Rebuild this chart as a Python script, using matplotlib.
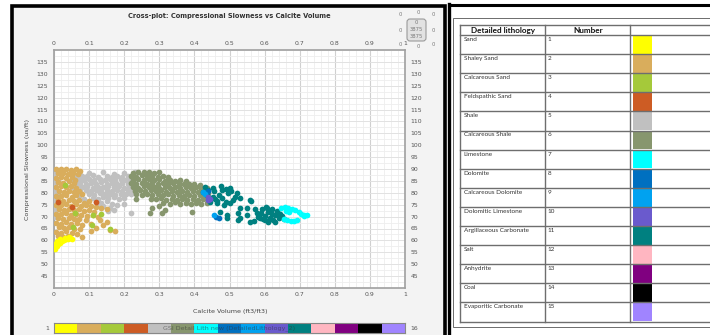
import matplotlib.pyplot as plt
from matplotlib.patches import Rectangle, FancyBboxPatch

plt.rcParams['font.family'] = ['DejaVu Sans']

# lithology legend table
lith_names = ['Sand', 'Shaley Sand', 'Calcareous Sand', 'Feldspathic Sand', 'Shale',
              'Calcareous Shale', 'Limestone', 'Dolomite', 'Calcareous Dolomite',
              'Dolomitic Limestone', 'Argillaceous Carbonate', 'Salt', 'Anhydrite',
              'Coal', 'Evaporitic Carbonate']
lith_numbers = [1, 2, 3, 4, 5, 6, 7, 8, 9, 10, 11, 12, 13, 14, 15]
lith_colors = ['#FFFF00', '#D9AD5C', '#A5C93A', '#CD5C24', '#C0C0C0',
               '#87966E', '#00FFFF', '#0070C0', '#00A2F0', '#6A5ACD',
               '#008080', '#FFB6C1', '#800080', '#000000', '#A084FF']

x_ticks = [0, 0.1, 0.2, 0.3, 0.4, 0.5, 0.6, 0.7, 0.8, 0.9, 1]
x_ticklabels = ['0', '0.1', '0.2', '0.3', '0.4', '0.5', '0.6', '0.7', '0.8', '0.9', '1']
y_ticks = [45, 50, 55, 60, 65, 70, 75, 80, 85, 90, 95, 100, 105, 110, 115, 120, 125, 130, 135]

# (calcite volume, compressional slowness)
sand = [(0.004, 56.5), (0.008, 57.5), (0.012, 58.3), (0.016, 59.0), (0.022, 59.6),
        (0.028, 60.0), (0.034, 60.4), (0.040, 60.6), (0.046, 60.8), (0.052, 60.6),
        (0.030, 61.2), (0.018, 60.6), (0.008, 59.8), (0.004, 58.5), (0.042, 61.5)]

shaley_sand = [
    (0.006, 90.0), (0.02, 89.8), (0.034, 90.1), (0.048, 89.6), (0.062, 89.9), (0.075, 89.3),
    (0.01, 88.2), (0.025, 88.4), (0.04, 87.9), (0.055, 88.3), (0.068, 87.7),
    (0.006, 86.3), (0.02, 86.6), (0.035, 86.1), (0.05, 86.5), (0.06, 85.5),
    (0.012, 84.6), (0.027, 84.2), (0.042, 84.8), (0.056, 84.0),
    (0.006, 82.5), (0.02, 82.8), (0.034, 82.3), (0.048, 82.7), (0.063, 82.1),
    (0.013, 80.7), (0.028, 80.4), (0.043, 80.9), (0.057, 80.2), (0.07, 80.6),
    (0.006, 78.8), (0.02, 78.5), (0.035, 79.0), (0.05, 78.4), (0.064, 78.9), (0.08, 79.3),
    (0.012, 76.9), (0.027, 76.6), (0.042, 77.1), (0.056, 76.5), (0.07, 76.8), (0.085, 75.9), (0.1, 76.7),
    (0.006, 75.0), (0.02, 74.7), (0.034, 75.2), (0.048, 74.6), (0.062, 75.1), (0.076, 74.5),
    (0.09, 74.9), (0.105, 74.3), (0.12, 74.0), (0.135, 73.6), (0.15, 73.4),
    (0.013, 73.1), (0.028, 72.8), (0.043, 73.3), (0.057, 72.6), (0.07, 73.0), (0.085, 72.4),
    (0.1, 72.8), (0.115, 72.1),
    (0.006, 71.2), (0.02, 70.9), (0.034, 71.4), (0.048, 70.8), (0.062, 71.1), (0.078, 70.5),
    (0.095, 70.2), (0.11, 70.6), (0.125, 69.8),
    (0.012, 69.3), (0.027, 69.0), (0.042, 69.5), (0.056, 68.8), (0.07, 69.2), (0.09, 68.4),
    (0.13, 68.6), (0.15, 67.7),
    (0.006, 67.4), (0.02, 67.1), (0.034, 67.6), (0.048, 66.9), (0.065, 67.3), (0.08, 66.5),
    (0.105, 66.8), (0.14, 66.3), (0.12, 65.4),
    (0.013, 65.5), (0.028, 65.2), (0.043, 65.7), (0.058, 65.0), (0.075, 64.6), (0.16, 64.5),
    (0.174, 64.0), (0.105, 64.0),
    (0.006, 63.6), (0.02, 63.3), (0.035, 63.8), (0.05, 63.1), (0.065, 62.7), (0.08, 61.6),
    (0.012, 61.8), (0.026, 61.5), (0.04, 62.0)]

calcareous_sand = [(0.031, 83.3), (0.111, 70.7), (0.107, 66.5), (0.054, 65.6),
                   (0.16, 64.6), (0.135, 71.0), (0.06, 71.5)]

feldspathic_sand = [(0.012, 76.3), (0.05, 74.2), (0.12, 76.0)]

shale = [
    (0.07, 88.2), (0.10, 88.5), (0.14, 88.6), (0.17, 88.0), (0.20, 88.3), (0.23, 88.8),
    (0.06, 86.8), (0.08, 87.2), (0.095, 86.9), (0.11, 87.3), (0.125, 86.7), (0.15, 87.1),
    (0.165, 86.6), (0.18, 87.0), (0.195, 86.8), (0.21, 87.2),
    (0.055, 85.4), (0.07, 85.8), (0.085, 85.3), (0.10, 85.7), (0.115, 85.2), (0.13, 85.6),
    (0.145, 85.4), (0.16, 85.8), (0.175, 85.3), (0.19, 85.6), (0.205, 85.2), (0.22, 85.7),
    (0.06, 84.0), (0.075, 84.3), (0.09, 83.8), (0.105, 84.2), (0.12, 83.9), (0.135, 84.4),
    (0.15, 83.8), (0.165, 84.1), (0.18, 83.7), (0.195, 84.2), (0.21, 83.9), (0.225, 84.3),
    (0.05, 82.4), (0.065, 82.8), (0.08, 82.3), (0.095, 82.7), (0.11, 82.2), (0.125, 82.6),
    (0.14, 82.4), (0.155, 82.8), (0.17, 82.3), (0.185, 82.7), (0.20, 82.2), (0.215, 82.6), (0.23, 82.3),
    (0.06, 81.0), (0.075, 80.7), (0.09, 81.2), (0.105, 80.8), (0.12, 81.1), (0.135, 80.6),
    (0.15, 81.2), (0.165, 80.9), (0.18, 81.3), (0.195, 80.7), (0.21, 81.1), (0.225, 80.8),
    (0.10, 79.6), (0.115, 79.2), (0.13, 79.8), (0.145, 79.3), (0.16, 79.7), (0.175, 79.2),
    (0.19, 79.6), (0.205, 79.3), (0.22, 79.7),
    (0.11, 78.0), (0.125, 77.6), (0.14, 78.2), (0.155, 77.8), (0.17, 78.1), (0.185, 77.5), (0.2, 78.0),
    (0.12, 76.2), (0.135, 75.8), (0.15, 76.4), (0.165, 75.5), (0.18, 74.8), (0.14, 74.4),
    (0.16, 73.8), (0.125, 74.9), (0.17, 72.8), (0.155, 72.3), (0.2, 75.2), (0.219, 71.4),
    (0.004, 88.0), (0.004, 86.0), (0.004, 84.0), (0.004, 82.0), (0.004, 80.0), (0.004, 78.0),
    (0.004, 76.0), (0.004, 74.0), (0.004, 72.0), (0.004, 70.0), (0.012, 85.0), (0.012, 79.0),
    (0.012, 73.0), (0.07, 78.5), (0.085, 77.5), (0.09, 76.0)]

calcareous_shale = [
    (0.225, 88.4), (0.24, 88.9), (0.255, 88.6), (0.27, 88.9), (0.285, 88.3), (0.30, 88.7),
    (0.22, 87.1), (0.235, 86.8), (0.25, 87.3), (0.265, 86.9), (0.28, 87.2), (0.295, 86.7),
    (0.31, 87.0), (0.325, 86.6),
    (0.225, 85.4), (0.24, 85.8), (0.255, 85.3), (0.27, 85.7), (0.285, 85.2), (0.30, 85.6),
    (0.315, 85.1), (0.33, 85.5), (0.345, 85.0), (0.36, 85.4), (0.375, 84.9),
    (0.22, 84.0), (0.235, 83.7), (0.25, 84.2), (0.265, 83.8), (0.28, 84.1), (0.295, 83.6),
    (0.31, 84.0), (0.325, 83.7), (0.34, 84.1), (0.355, 83.6), (0.37, 83.9), (0.385, 83.5),
    (0.40, 83.8), (0.415, 83.3),
    (0.225, 82.5), (0.24, 82.2), (0.255, 82.7), (0.27, 82.3), (0.285, 82.6), (0.30, 82.1),
    (0.315, 82.5), (0.33, 82.0), (0.345, 82.4), (0.36, 82.1), (0.375, 82.5), (0.39, 82.0),
    (0.405, 82.3), (0.42, 81.9), (0.435, 82.2),
    (0.23, 80.8), (0.245, 81.2), (0.26, 80.7), (0.275, 81.1), (0.29, 80.6), (0.305, 81.0),
    (0.32, 80.5), (0.335, 80.9), (0.35, 80.4), (0.365, 80.8), (0.38, 80.3), (0.395, 80.7),
    (0.41, 80.2), (0.425, 80.6), (0.44, 80.1),
    (0.235, 79.4), (0.25, 79.0), (0.265, 79.5), (0.28, 79.1), (0.295, 79.4), (0.31, 78.9),
    (0.325, 79.3), (0.34, 78.8), (0.355, 79.2), (0.37, 78.7), (0.385, 79.1), (0.40, 78.6),
    (0.415, 79.0), (0.43, 78.5),
    (0.275, 77.6), (0.29, 77.2), (0.305, 77.7), (0.32, 77.1), (0.335, 77.5), (0.35, 77.0),
    (0.365, 77.4), (0.38, 76.9), (0.395, 77.3), (0.41, 76.8), (0.425, 77.2), (0.44, 76.7),
    (0.31, 75.9), (0.33, 75.5), (0.345, 76.0), (0.36, 75.4), (0.375, 75.8), (0.39, 75.3),
    (0.405, 75.7), (0.42, 75.2), (0.435, 75.6),
    (0.278, 73.5), (0.307, 71.6), (0.316, 72.8), (0.274, 71.5), (0.392, 72.1), (0.30, 74.5),
    (0.235, 77.5)]

argillaceous_carbonate = [
    (0.425, 80.5), (0.454, 82.0), (0.454, 78.4), (0.478, 81.2), (0.497, 79.9), (0.516, 78.4),
    (0.53, 77.8), (0.558, 77.0), (0.562, 76.5), (0.444, 76.3), (0.463, 75.6), (0.483, 74.9),
    (0.501, 75.6), (0.53, 73.5), (0.549, 73.5), (0.572, 73.2), (0.592, 73.2), (0.606, 73.5),
    (0.473, 72.1), (0.492, 69.3), (0.525, 71.4), (0.525, 68.6), (0.549, 70.7), (0.558, 67.9),
    (0.587, 69.3), (0.577, 71.4),
    (0.59, 71.5), (0.60, 70.2), (0.61, 72.0), (0.615, 69.3), (0.62, 71.0), (0.625, 68.6),
    (0.63, 70.5), (0.635, 72.2), (0.64, 69.5), (0.645, 71.2), (0.60, 68.4), (0.61, 67.8),
    (0.62, 73.0), (0.63, 67.9), (0.65, 70.2), (0.655, 68.8), (0.595, 69.0), (0.58, 70.0),
    (0.57, 68.2), (0.605, 74.0),
    (0.43, 82.3), (0.44, 81.0), (0.435, 78.9), (0.445, 77.8), (0.455, 80.8), (0.46, 77.5),
    (0.47, 79.2), (0.465, 76.5), (0.48, 77.8), (0.49, 76.2), (0.475, 82.8), (0.49, 81.5),
    (0.505, 80.8), (0.51, 77.0), (0.52, 80.0), (0.50, 82.2), (0.492, 70.7), (0.53, 69.3)]

limestone = [(0.648, 73.8), (0.658, 74.0), (0.668, 73.8), (0.678, 73.3), (0.688, 72.6),
             (0.697, 71.9), (0.705, 71.2), (0.713, 70.8), (0.72, 70.6), (0.712, 70.2),
             (0.66, 72.2), (0.67, 71.8), (0.655, 69.0), (0.665, 68.6), (0.675, 68.3),
             (0.685, 68.2), (0.693, 68.4)]

dolomite = [(0.462, 70.0), (0.47, 69.6), (0.44, 80.6)]
calcareous_dolomite = [(0.425, 80.3), (0.43, 79.5), (0.456, 70.6)]
dolomitic_limestone = [(0.44, 76.8), (0.445, 77.5), (0.438, 78.2)]

W, H = 710, 335
fig = plt.figure(figsize=(W / 100, H / 100), dpi=100)

# pixel-space overlay for panel frames, titles and the legend table
bg = fig.add_axes([0, 0, 1, 1], zorder=0)
bg.set_xlim(0, W)
bg.set_ylim(H, 0)
bg.axis('off')

# left panel frame
bg.add_patch(Rectangle((12, 5.5), 432.5, 345, facecolor='#f3f3f3', edgecolor='black', lw=2.6))
# right panel frame
bg.plot([448.5, 448.5], [4, H], color='black', lw=2.4)
bg.plot([448.5, W + 5], [5, 5], color='black', lw=2.2)
bg.add_patch(Rectangle((453, 18), 300, 309, facecolor='white', edgecolor='#555555', lw=0.6))

bg.text(229, 16, 'Cross-plot: Compressional Slowness vs Calcite Volume', ha='center', va='center',
        fontsize=4.8, fontweight='bold', color='#333333')
bg.text(230, 312, 'Calcite Volume (ft3/ft3)', ha='center', va='center', fontsize=4.6, color='#444444')
bg.text(28, 169, 'Compressional Slowness (us/ft)', ha='center', va='center', rotation=90,
        fontsize=4.6, color='#444444')

# small counter widget in the top right corner
bg.add_patch(FancyBboxPatch((407, 19), 19, 22, boxstyle='round,pad=0,rounding_size=3',
                            facecolor='#e2e2e2', edgecolor='#9a9a9a', lw=0.8))
for tx, ty, s in [(418, 13, '0'), (400, 15, '0'), (433, 15, '0'), (400, 30, '0'), (433, 30, '0'),
                  (400, 44, '0'), (433, 44, '0'), (418, 47, '0'), (416.5, 23, '0'),
                  (416.5, 29.5, '3875'), (416.5, 36, '3875')]:
    bg.text(tx, ty, s, ha='center', va='center', fontsize=3.8, color='#7a7a7a')

# legend table
tbl_top, hdr_bot, row_h = 25, 35, 19.1
col_x = [460, 545, 630]
tbl_bot = hdr_bot + row_h * len(lith_names)
line_c = '#6e6e6e'
bg.plot([col_x[0], W + 5], [tbl_top, tbl_top], color=line_c, lw=1.0)
bg.plot([col_x[0], W + 5], [hdr_bot, hdr_bot], color=line_c, lw=1.0)
for i in range(len(lith_names)):
    yb = hdr_bot + row_h * (i + 1)
    bg.plot([col_x[0], W + 5], [yb, yb], color=line_c, lw=1.0)
for cx in col_x:
    bg.plot([cx, cx], [tbl_top, tbl_bot], color=line_c, lw=1.0)
bg.text(503, 30.3, 'Detailed lithology', ha='center', va='center', fontsize=5.9,
        fontweight='bold', family='Lato', color='#111111')
bg.text(588, 30.3, 'Number', ha='center', va='center', fontsize=5.9,
        fontweight='bold', family='Lato', color='#111111')
for i, (name, num, col) in enumerate(zip(lith_names, lith_numbers, lith_colors)):
    yt = hdr_bot + row_h * i
    bg.text(463.5, yt + 4.5, name, ha='left', va='center', fontsize=4.6, family='Lato', color='#333333')
    bg.text(548, yt + 4.5, str(num), ha='left', va='center', fontsize=4.6, family='Lato', color='#333333')
    bg.add_patch(Rectangle((633, yt + 0.8), 19, row_h - 1.1, facecolor=col, edgecolor='none'))

# cross-plot
ax = fig.add_axes([54 / W, (H - 288) / H, 351 / W, 238 / H], zorder=1)
ax.set_facecolor('white')
ax.set_xlim(0, 1)
ax.set_ylim(40, 140)
ax.set_xticks(x_ticks)
ax.set_xticklabels(x_ticklabels)
ax.set_yticks(y_ticks)
ax.set_xticks([v / 50 for v in range(51)], minor=True)
ax.set_yticks([40 + 2.5 * v for v in range(41)], minor=True)
ax.tick_params(which='both', length=0, labelsize=4.4, labelcolor='#555555',
               top=True, labeltop=True, right=True, labelright=True)
ax.tick_params(axis='x', which='major', pad=3)
ax.tick_params(axis='y', which='major', pad=4)
ax.grid(which='minor', color='#eeeeee', lw=0.6)
ax.grid(which='major', axis='y', color='#e2e2e2', lw=0.7)
ax.grid(which='major', axis='x', color='#d0d0d0', lw=0.8)
ax.set_axisbelow(True)
for sp in ax.spines.values():
    sp.set_color('#a0a0a0')
    sp.set_linewidth(1.2)

groups = [
    (shale, lith_colors[4]),
    (shaley_sand, lith_colors[1]),
    (sand, lith_colors[0]),
    (calcareous_sand, lith_colors[2]),
    (feldspathic_sand, lith_colors[3]),
    (calcareous_shale, lith_colors[5]),
    (argillaceous_carbonate, lith_colors[10]),
    (limestone, lith_colors[6]),
    (dolomite, lith_colors[7]),
    (calcareous_dolomite, lith_colors[8]),
    (dolomitic_limestone, lith_colors[9]),
]
for pts, col in groups:
    xs = [p[0] for p in pts]
    ys = [p[1] for p in pts]
    ax.scatter(xs, ys, s=17, color=col, linewidths=0, zorder=3)

# colour bar under the plot
cax = fig.add_axes([54 / W, (H - 333) / H, 351 / W, 10 / H], zorder=1)
cax.bar(lith_numbers, 1, width=1, align='edge', color=lith_colors, edgecolor='none')
cax.set_xlim(1, 16)
cax.set_ylim(0, 1)
cax.set_xticks([])
cax.set_yticks([])
for sp in cax.spines.values():
    sp.set_color('#888888')
    sp.set_linewidth(0.8)
cax.text(0.5, 0.5, 'GSI Detail Lith new (DetailedLithology_2)', transform=cax.transAxes,
         ha='center', va='center', fontsize=4.6, color='#333333', alpha=0.55)
bg.text(49, 328, '1', ha='right', va='center', fontsize=4.4, color='#555555')
bg.text(410, 328, '16', ha='left', va='center', fontsize=4.4, color='#555555')

fig.savefig('out.png', dpi=100)
